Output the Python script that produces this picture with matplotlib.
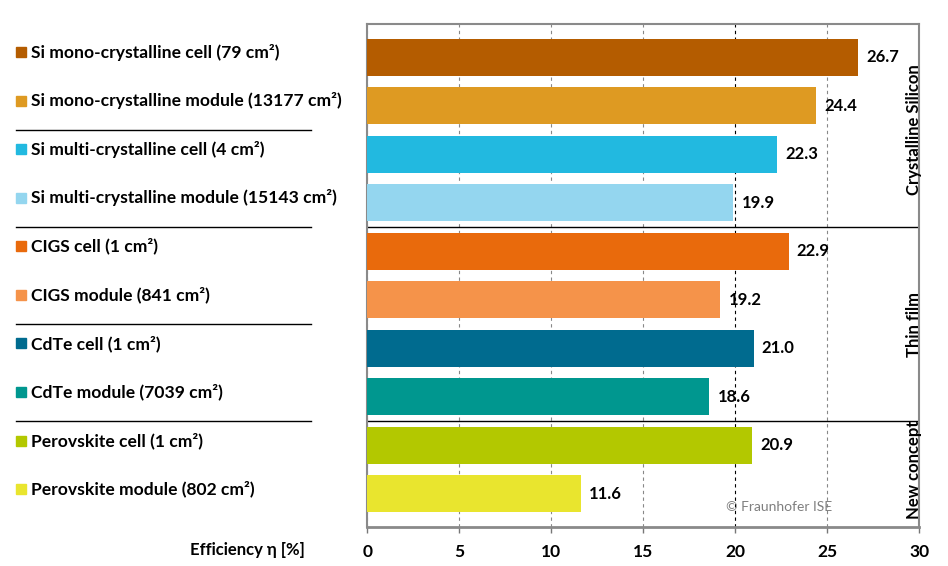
import numpy as np
import matplotlib
matplotlib.use('Agg')
import matplotlib.pyplot as plt
from matplotlib.transforms import blended_transform_factory

plt.rcParams['font.family'] = ['Lato', 'DejaVu Sans']

# data
labels = ['Si mono-crystalline cell (79 cm²)',
          'Si mono-crystalline module (13177 cm²)',
          'Si multi-crystalline cell (4 cm²)',
          'Si multi-crystalline module (15143 cm²)',
          'CIGS cell (1 cm²)',
          'CIGS module (841 cm²)',
          'CdTe cell (1 cm²)',
          'CdTe module (7039 cm²)',
          'Perovskite cell (1 cm²)',
          'Perovskite module (802 cm²)']
efficiency = [26.7, 24.4, 22.3, 19.9, 22.9, 19.2, 21.0, 18.6, 20.9, 11.6]
colors = ['#B45C00', '#DE9A22', '#22B9E0', '#94D6EF', '#E96A0C',
          '#F5934A', '#006B8F', '#00978F', '#B3C800', '#E9E52E']
groups = ['Crystalline Silicon', 'Thin film', 'New concept']
group_rows = [(0, 3), (4, 7), (8, 9)]
left_separators = [1.5, 3.5, 5.5, 7.5]
x_ticks = [0, 5, 10, 15, 20, 25, 30]

fig = plt.figure(figsize=(9.48, 5.66), dpi=100)
ax = fig.add_axes([0.3875, 0.069, 0.582, 0.8885])

y = np.arange(len(labels))
ax.barh(y, efficiency, height=0.76, color=colors, zorder=3)

for yi, v in zip(y, efficiency):
    ax.text(v + 0.45, yi, f'{v:.1f}', va='center', ha='left',
            fontsize=12, fontweight='bold', zorder=4)

ax.set_xlim(0, 30)
ax.set_ylim(9.68, -0.68)
ax.set_xticks(x_ticks)
ax.set_xticklabels([str(t) for t in x_ticks], fontsize=12.5, fontweight='bold')
ax.set_yticks([])
ax.tick_params(axis='x', direction='out', length=4, width=1, color='#777777', pad=8)

ax.grid(axis='x', linestyle=(0, (3, 3)), color='#888888', linewidth=0.8, zorder=0)
# the 20 % line is drawn darker in the original
for gl, t in zip(ax.xaxis.get_gridlines(), x_ticks):
    if t == 20:
        gl.set_color('black')

for s in ax.spines.values():
    s.set_color('#8a8a8a')
    s.set_linewidth(1.5)
ax.spines['bottom'].set_linewidth(2)

# group separators inside the plot
for (a, b) in group_rows[:-1]:
    ax.axhline(b + 0.5, color='black', linewidth=1, zorder=2)

# group names on the right
for name, (a, b) in zip(groups, group_rows):
    ax.text(29.75, (a + b) / 2, name, rotation=90, ha='center', va='center',
            fontsize=12, fontweight='bold', zorder=4)

# legend-like labels on the left
trans = blended_transform_factory(fig.transFigure, ax.transData)
for yi, lab, c in zip(y, labels, colors):
    ax.plot([0.0222], [yi - 0.1], marker='s', markersize=7.5, color=c,
            transform=trans, clip_on=False, linestyle='none')
    ax.text(0.0327, yi - 0.1, lab, transform=trans, ha='left', va='center',
            fontsize=12.6, fontweight='bold')
for sy in left_separators:
    ax.plot([0.0169, 0.328], [sy, sy], color='black', linewidth=1,
            transform=trans, clip_on=False)

fig.text(0.322, 0.028, 'Efficiency η [%]', ha='right', va='center',
         fontsize=12, fontweight='bold')
ax.text(19.5, 9.27, '© Fraunhofer ISE', ha='left', va='center',
        fontsize=10, color='#7f7f7f', zorder=4)

fig.savefig('out.png', dpi=100)
